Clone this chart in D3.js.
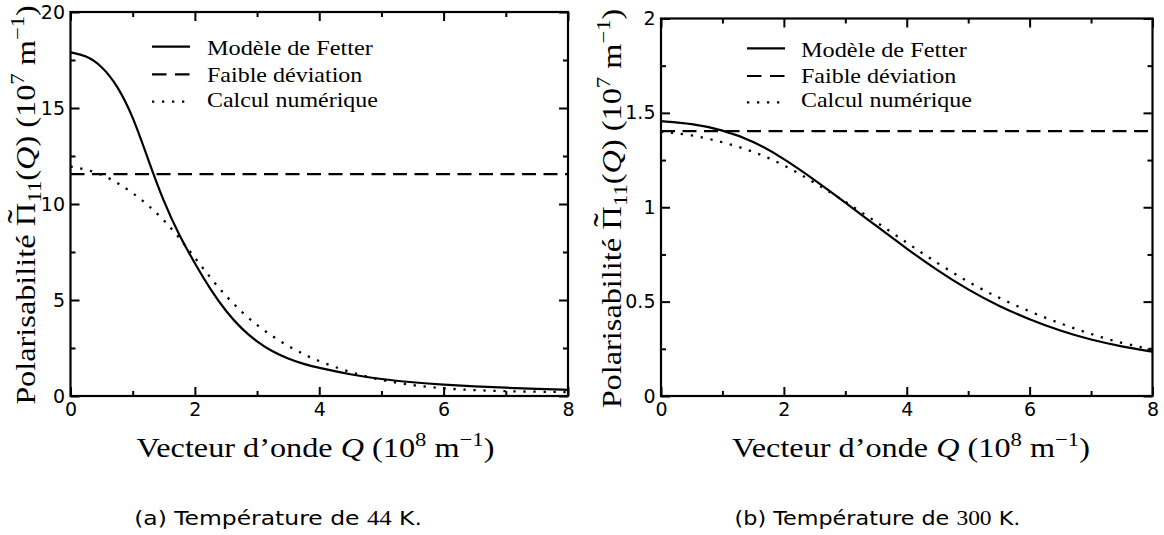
<!DOCTYPE html>
<html><head><meta charset="utf-8">
<script src="https://cdn.jsdelivr.net/npm/d3@7"></script>
<style>body{margin:0;background:#fff}svg{display:block}</style>
</head><body>
<svg id="chart" width="1164" height="535"></svg>
<script>
// ---------- data ----------
const qGrid44 = [0,0.25,0.5,0.75,1,1.25,1.5,1.75,2,2.25,2.5,2.75,3,3.25,3.5,3.75,4,4.5,5,5.5,6,6.5,7,7.5,8];
const fetter44 = [17.9,17.74,17.2,16.2,14.6,12.3,10.1,8.35,6.9,5.55,4.4,3.5,2.82,2.3,1.94,1.66,1.46,1.12,0.87,0.71,0.59,0.5,0.43,0.37,0.32];
const numeric44 = [11.95,11.8,11.55,11.12,10.58,9.95,9.18,8.25,7.2,6.15,5.2,4.38,3.68,3.1,2.6,2.17,1.8,1.22,0.82,0.55,0.39,0.3,0.25,0.22,0.205];
const deviation44 = [11.56,11.56];

const qGrid300 = [0,0.5,1,1.5,2,2.5,3,3.5,4,4.5,5,5.5,6,6.5,7,7.5,8];
const fetter300 = [1.456,1.444,1.41,1.352,1.258,1.145,1.025,0.902,0.78,0.665,0.562,0.476,0.405,0.345,0.297,0.262,0.235];
const numeric300 = [1.40,1.384,1.346,1.297,1.226,1.13,1.03,0.923,0.812,0.703,0.603,0.519,0.447,0.384,0.327,0.279,0.247];
const deviation300 = [1.403,1.403];
const qEnds = [0,8];

const xTicks = [0,2,4,6,8];
const xMinor = [1,3,5,7];
const yTicks44 = [0,5,10,15,20];
const yMinor44 = [2.5,7.5,12.5,17.5];
const yTicks300 = [0,0.5,1,1.5,2];
const yMinor300 = [0.25,0.75,1.25,1.75];

const legendLabels = ["Modèle de Fetter","Faible déviation","Calcul numérique"];
const captionsText = [["(a) Température de ","44"," K."],["(b) Température de ","300"," K."]];

// ---------- drawing ----------
const SERIF = "'Liberation Serif','Times New Roman',serif";
const SANS = "'DejaVu Sans','Liberation Sans',sans-serif";
const svg = d3.select("#chart");

const panels = [
  {x0:70.5,x1:568,y0:12,y1:396,ymax:20,q:qGrid44,f:fetter44,n:numeric44,d:deviation44,
   yt:yTicks44,ym:yMinor44,
   leg:{lx:152,tx:207,ly:[46.7,74.3,101.7],ty:[55,81.7,107.3]},
   ylab:{x:35,cy:205}, xlab:{cx:315.5}, cap:{cx:278,w:288,i:0}},
  {x0:661,x1:1152.5,y0:18.5,y1:396,ymax:2,q:qGrid300,f:fetter300,n:numeric300,d:deviation300,
   yt:yTicks300,ym:yMinor300,
   leg:{lx:747,tx:801,ly:[48.3,76,102.3],ty:[56.7,83.3,106.7]},
   ylab:{x:621,cy:208.5}, xlab:{cx:911}, cap:{cx:877.5,w:286,i:1}}
];
const legendWidths = [166,156,171];

function fit(g, text, target, transformFn){
  const w = text.node().getBBox().width;
  g.attr("transform", transformFn(target / w));
}

panels.forEach(p => {
  const x = d3.scaleLinear().domain([0,8]).range([p.x0,p.x1]);
  const y = d3.scaleLinear().domain([0,p.ymax]).range([p.y1,p.y0]);
  const W = p.x1-p.x0, H = p.y1-p.y0;

  function styleAxis(g){
    g.select(".domain").remove();
    g.selectAll(".tick line").attr("stroke","#000").attr("stroke-width",2);
    g.selectAll("text").attr("font-family",SANS).attr("font-size",19).attr("fill","#000");
    g.attr("font-family",SANS);
  }
  svg.append("g").attr("transform",`translate(0,${p.y1})`)
     .call(d3.axisBottom(x).tickValues(xTicks).tickSize(-9).tickPadding(7).tickFormat(d3.format("~g"))).call(styleAxis);
  svg.append("g").attr("transform",`translate(0,${p.y1})`)
     .call(d3.axisBottom(x).tickValues(xMinor).tickSize(-5).tickFormat("")).call(styleAxis);
  svg.append("g").attr("transform",`translate(0,${p.y0})`)
     .call(d3.axisTop(x).tickValues(xTicks).tickSize(-9).tickFormat("")).call(styleAxis);
  svg.append("g").attr("transform",`translate(0,${p.y0})`)
     .call(d3.axisTop(x).tickValues(xMinor).tickSize(-5).tickFormat("")).call(styleAxis);
  svg.append("g").attr("transform",`translate(${p.x0},0)`)
     .call(d3.axisLeft(y).tickValues(p.yt).tickSize(-9).tickPadding(5.5).tickFormat(d3.format("~g"))).call(styleAxis);
  svg.append("g").attr("transform",`translate(${p.x0},0)`)
     .call(d3.axisLeft(y).tickValues(p.ym).tickSize(-5).tickFormat("")).call(styleAxis);
  svg.append("g").attr("transform",`translate(${p.x1},0)`)
     .call(d3.axisRight(y).tickValues(p.yt).tickSize(-9).tickFormat("")).call(styleAxis);
  svg.append("g").attr("transform",`translate(${p.x1},0)`)
     .call(d3.axisRight(y).tickValues(p.ym).tickSize(-5).tickFormat("")).call(styleAxis);

  // curves
  const clipId = "clip"+Math.round(p.x0);
  svg.append("clipPath").attr("id",clipId).append("rect")
     .attr("x",p.x0).attr("y",p.y0-2).attr("width",W).attr("height",H+2);
  const plot = svg.append("g").attr("clip-path",`url(#${clipId})`);
  const line = d3.line().x(d=>x(d[0])).y(d=>y(d[1])).curve(d3.curveBasis);
  plot.append("path").attr("d", line(p.q.map((q,i)=>[q,p.f[i]])))
      .attr("fill","none").attr("stroke","#000").attr("stroke-width",2.2);
  plot.append("path").attr("d", d3.line().x(d=>x(d[0])).y(d=>y(d[1]))(qEnds.map((q,i)=>[q,p.d[i]])))
      .attr("fill","none").attr("stroke","#000").attr("stroke-width",2.2).attr("stroke-dasharray","14,7.5");
  plot.append("path").attr("d", line(p.q.map((q,i)=>[q,p.n[i]])))
      .attr("fill","none").attr("stroke","#000").attr("stroke-width",2.3).attr("stroke-dasharray","2.3,7.7");

  // frame
  svg.append("rect").attr("x",p.x0).attr("y",p.y0).attr("width",W).attr("height",H)
     .attr("fill","none").attr("stroke","#000").attr("stroke-width",2.2);

  // legend
  const dashes = [null,"14.5,8.5","2.3,7.7"];
  legendLabels.forEach((lab,i)=>{
    svg.append("line").attr("x1",p.leg.lx).attr("x2",p.leg.lx+38)
       .attr("y1",p.leg.ly[i]).attr("y2",p.leg.ly[i])
       .attr("stroke","#000").attr("stroke-width",2.2)
       .attr("stroke-dasharray",dashes[i]);
    const g = svg.append("g");
    const t = g.append("text").attr("font-family",SERIF).attr("font-size",21).attr("fill","#000").text(lab);
    fit(g,t,legendWidths[i],sx=>`translate(${p.leg.tx},${p.leg.ty[i]}) scale(${sx},1)`);
  });

  // y label (rotated)
  {
    const g = svg.append("g");
    const t = g.append("text").attr("text-anchor","middle").attr("font-family",SERIF)
               .attr("font-size",27).attr("fill","#000");
    t.append("tspan").text("Polarisabilité ");
    t.append("tspan").text("\u03A0");
    t.append("tspan").attr("font-size",34).attr("dx",-17).attr("dy",-4).text("\u02DC");
    t.append("tspan").attr("dx",6).attr("dy",10).attr("font-size",19).text("11");
    t.append("tspan").attr("dy",-6).text("(");
    t.append("tspan").attr("font-style","italic").text("Q");
    t.append("tspan").text(") (10");
    t.append("tspan").attr("dy",-11).attr("font-size",19).text("7");
    t.append("tspan").attr("dy",11).text(" m");
    t.append("tspan").attr("dy",-11).attr("font-size",19).text("\u22121");
    t.append("tspan").attr("dy",11).text(")");
    fit(g,t,400,sx=>`translate(${p.ylab.x},${p.ylab.cy}) rotate(-90) scale(${sx},1)`);
  }
  // x label
  {
    const g = svg.append("g");
    const t = g.append("text").attr("text-anchor","middle").attr("font-family",SERIF)
               .attr("font-size",27).attr("fill","#000");
    t.append("tspan").text("Vecteur d\u2019onde ");
    t.append("tspan").attr("font-style","italic").text("Q");
    t.append("tspan").text(" (10");
    t.append("tspan").attr("dy",-11).attr("font-size",19).text("8");
    t.append("tspan").attr("dy",11).text(" m");
    t.append("tspan").attr("dy",-11).attr("font-size",19).text("\u22121");
    t.append("tspan").attr("dy",11).text(")");
    fit(g,t,358,sx=>`translate(${p.xlab.cx},457) scale(${sx},1)`);
  }
  // caption
  {
    const c = captionsText[p.cap.i];
    const g = svg.append("g");
    const t = g.append("text").attr("text-anchor","middle").attr("font-family",SANS)
               .attr("font-size",19).attr("fill","#000");
    t.append("tspan").text(c[0]);
    t.append("tspan").attr("font-family",SERIF).attr("font-size",20).text(c[1]);
    t.append("tspan").text(c[2]);
    fit(g,t,p.cap.w,sx=>`translate(${p.cap.cx},525) scale(${sx},1)`);
  }
});
</script>
</body></html>
